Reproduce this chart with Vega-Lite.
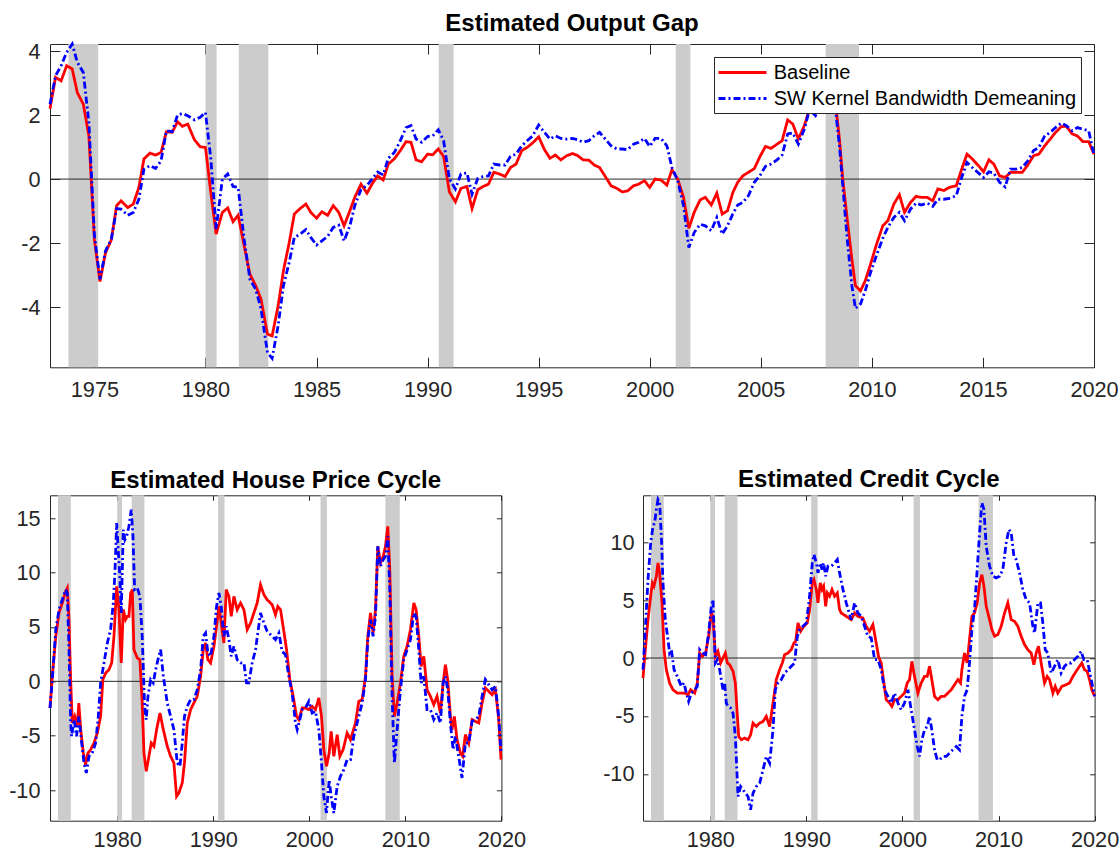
{
"$schema": "https://vega.github.io/schema/vega-lite/v6.json",
"padding": {"left": 8, "top": 12, "right": 0, "bottom": 0},
"bounds": "flush",
"spacing": 127.3,
"resolve": {"scale": {"color": "independent", "strokeDash": "independent"}},
"datasets": {
"rec": [{"a":1973.83,"b":1975.17},{"a":1980.0,"b":1980.5},{"a":1981.5,"b":1982.83},{"a":1990.5,"b":1991.17},{"a":2001.17,"b":2001.83},{"a":2007.92,"b":2009.42}],
"ogB": [{"t":1973.0,"v":2.2},{"t":1973.25,"v":3.18},{"t":1973.5,"v":3.07},{"t":1973.75,"v":3.54},{"t":1974.0,"v":3.44},{"t":1974.23,"v":2.7},{"t":1974.5,"v":2.34},{"t":1974.75,"v":1.35},{"t":1975.0,"v":-1.9},{"t":1975.25,"v":-3.2},{"t":1975.5,"v":-2.3},{"t":1975.76,"v":-1.9},{"t":1976.0,"v":-0.83},{"t":1976.2,"v":-0.68},{"t":1976.5,"v":-0.89},{"t":1976.75,"v":-0.78},{"t":1977.0,"v":-0.26},{"t":1977.23,"v":0.63},{"t":1977.5,"v":0.81},{"t":1977.75,"v":0.75},{"t":1978.0,"v":0.83},{"t":1978.24,"v":1.48},{"t":1978.5,"v":1.46},{"t":1978.74,"v":1.79},{"t":1978.96,"v":1.65},{"t":1979.2,"v":1.72},{"t":1979.5,"v":1.23},{"t":1979.76,"v":1.01},{"t":1980.0,"v":0.99},{"t":1980.24,"v":-0.42},{"t":1980.48,"v":-1.72},{"t":1980.76,"v":-1.04},{"t":1981.0,"v":-0.9},{"t":1981.24,"v":-1.33},{"t":1981.47,"v":-1.13},{"t":1981.74,"v":-2.08},{"t":1982.0,"v":-2.97},{"t":1982.26,"v":-3.33},{"t":1982.5,"v":-3.75},{"t":1982.79,"v":-4.84},{"t":1983.0,"v":-4.9},{"t":1983.27,"v":-3.96},{"t":1983.51,"v":-2.86},{"t":1983.77,"v":-1.98},{"t":1984.0,"v":-1.09},{"t":1984.26,"v":-0.92},{"t":1984.52,"v":-0.78},{"t":1984.74,"v":-1.04},{"t":1985.0,"v":-1.22},{"t":1985.24,"v":-1.02},{"t":1985.5,"v":-1.13},{"t":1985.75,"v":-0.83},{"t":1986.0,"v":-1.04},{"t":1986.24,"v":-1.46},{"t":1986.5,"v":-0.99},{"t":1986.72,"v":-0.57},{"t":1987.0,"v":-0.16},{"t":1987.27,"v":-0.44},{"t":1987.5,"v":-0.15},{"t":1987.75,"v":0.1},{"t":1988.0,"v":-0.03},{"t":1988.23,"v":0.47},{"t":1988.5,"v":0.63},{"t":1988.77,"v":0.89},{"t":1989.03,"v":1.17},{"t":1989.25,"v":1.15},{"t":1989.48,"v":0.6},{"t":1989.73,"v":0.54},{"t":1990.0,"v":0.78},{"t":1990.23,"v":0.76},{"t":1990.48,"v":0.94},{"t":1990.72,"v":0.71},{"t":1990.98,"v":-0.4},{"t":1991.25,"v":-0.71},{"t":1991.5,"v":-0.29},{"t":1991.77,"v":-0.23},{"t":1992.0,"v":-0.92},{"t":1992.26,"v":-0.33},{"t":1992.5,"v":-0.23},{"t":1992.74,"v":-0.16},{"t":1992.98,"v":0.21},{"t":1993.23,"v":0.16},{"t":1993.49,"v":0.08},{"t":1993.73,"v":0.36},{"t":1993.98,"v":0.47},{"t":1994.24,"v":0.89},{"t":1994.48,"v":0.99},{"t":1994.73,"v":1.13},{"t":1995.0,"v":1.32},{"t":1995.26,"v":0.92},{"t":1995.51,"v":0.65},{"t":1995.75,"v":0.75},{"t":1996.0,"v":0.6},{"t":1996.26,"v":0.73},{"t":1996.53,"v":0.8},{"t":1996.76,"v":0.73},{"t":1997.0,"v":0.6},{"t":1997.26,"v":0.59},{"t":1997.5,"v":0.44},{"t":1997.74,"v":0.36},{"t":1998.0,"v":0.08},{"t":1998.26,"v":-0.21},{"t":1998.52,"v":-0.29},{"t":1998.76,"v":-0.4},{"t":1999.0,"v":-0.37},{"t":1999.27,"v":-0.21},{"t":1999.5,"v":-0.16},{"t":1999.76,"v":-0.05},{"t":2000.0,"v":-0.26},{"t":2000.24,"v":0.0},{"t":2000.51,"v":-0.03},{"t":2000.77,"v":-0.19},{"t":2001.0,"v":0.29},{"t":2001.26,"v":0.0},{"t":2001.52,"v":-0.57},{"t":2001.76,"v":-1.54},{"t":2002.0,"v":-1.04},{"t":2002.27,"v":-0.65},{"t":2002.5,"v":-0.57},{"t":2002.77,"v":-0.81},{"t":2003.02,"v":-0.44},{"t":2003.26,"v":-1.09},{"t":2003.5,"v":-0.99},{"t":2003.74,"v":-0.42},{"t":2003.96,"v":-0.1},{"t":2004.19,"v":0.1},{"t":2004.44,"v":0.21},{"t":2004.71,"v":0.33},{"t":2004.98,"v":0.73},{"t":2005.21,"v":1.02},{"t":2005.46,"v":0.96},{"t":2005.73,"v":1.09},{"t":2005.96,"v":1.2},{"t":2006.21,"v":1.85},{"t":2006.44,"v":1.72},{"t":2006.69,"v":1.25},{"t":2006.96,"v":1.67},{"t":2007.19,"v":2.19},{"t":2007.46,"v":2.45},{"t":2007.71,"v":2.6},{"t":2007.96,"v":2.55},{"t":2008.2,"v":2.4},{"t":2008.39,"v":2.19},{"t":2008.54,"v":1.25},{"t":2008.69,"v":0.0},{"t":2008.89,"v":-1.25},{"t":2009.1,"v":-2.5},{"t":2009.26,"v":-3.33},{"t":2009.49,"v":-3.49},{"t":2009.7,"v":-3.18},{"t":2009.94,"v":-2.66},{"t":2010.19,"v":-2.08},{"t":2010.49,"v":-1.46},{"t":2010.72,"v":-1.3},{"t":2010.99,"v":-0.78},{"t":2011.24,"v":-0.49},{"t":2011.47,"v":-1.04},{"t":2011.74,"v":-0.73},{"t":2011.99,"v":-0.54},{"t":2012.22,"v":-0.57},{"t":2012.49,"v":-0.57},{"t":2012.74,"v":-0.68},{"t":2012.97,"v":-0.31},{"t":2013.24,"v":-0.36},{"t":2013.49,"v":-0.26},{"t":2013.8,"v":-0.21},{"t":2014.02,"v":0.26},{"t":2014.28,"v":0.78},{"t":2014.52,"v":0.63},{"t":2014.77,"v":0.44},{"t":2015.03,"v":0.23},{"t":2015.27,"v":0.6},{"t":2015.49,"v":0.47},{"t":2015.75,"v":0.1},{"t":2016.0,"v":0.05},{"t":2016.24,"v":0.21},{"t":2016.5,"v":0.21},{"t":2016.77,"v":0.21},{"t":2017.02,"v":0.44},{"t":2017.28,"v":0.73},{"t":2017.52,"v":0.78},{"t":2017.78,"v":1.04},{"t":2018.03,"v":1.25},{"t":2018.27,"v":1.46},{"t":2018.53,"v":1.64},{"t":2018.75,"v":1.65},{"t":2019.02,"v":1.41},{"t":2019.25,"v":1.35},{"t":2019.5,"v":1.17},{"t":2019.76,"v":1.17},{"t":2020.0,"v":0.78}],
"ogS": [{"t":1973.0,"v":2.34},{"t":1973.25,"v":3.23},{"t":1973.5,"v":3.54},{"t":1973.75,"v":3.96},{"t":1974.0,"v":4.22},{"t":1974.23,"v":3.65},{"t":1974.5,"v":3.33},{"t":1974.75,"v":1.77},{"t":1975.0,"v":-1.77},{"t":1975.25,"v":-3.13},{"t":1975.5,"v":-2.24},{"t":1975.76,"v":-1.88},{"t":1976.0,"v":-0.92},{"t":1976.2,"v":-0.94},{"t":1976.5,"v":-1.13},{"t":1976.75,"v":-1.04},{"t":1977.0,"v":-0.63},{"t":1977.23,"v":0.31},{"t":1977.5,"v":0.42},{"t":1977.75,"v":0.33},{"t":1978.0,"v":0.57},{"t":1978.24,"v":1.51},{"t":1978.5,"v":1.48},{"t":1978.74,"v":2.0},{"t":1978.96,"v":2.05},{"t":1979.2,"v":1.98},{"t":1979.5,"v":1.85},{"t":1979.76,"v":1.93},{"t":1980.0,"v":2.08},{"t":1980.24,"v":0.63},{"t":1980.48,"v":-1.56},{"t":1980.76,"v":0.0},{"t":1981.0,"v":0.16},{"t":1981.24,"v":-0.23},{"t":1981.47,"v":-0.26},{"t":1981.74,"v":-1.88},{"t":1982.0,"v":-3.13},{"t":1982.26,"v":-3.44},{"t":1982.5,"v":-4.06},{"t":1982.79,"v":-5.42},{"t":1983.0,"v":-5.6},{"t":1983.27,"v":-4.58},{"t":1983.51,"v":-3.33},{"t":1983.77,"v":-2.6},{"t":1984.0,"v":-1.82},{"t":1984.26,"v":-1.72},{"t":1984.52,"v":-1.58},{"t":1984.74,"v":-1.82},{"t":1985.0,"v":-2.06},{"t":1985.24,"v":-1.93},{"t":1985.5,"v":-1.79},{"t":1985.75,"v":-1.51},{"t":1986.0,"v":-1.44},{"t":1986.24,"v":-1.93},{"t":1986.5,"v":-1.46},{"t":1986.72,"v":-0.83},{"t":1987.0,"v":-0.33},{"t":1987.27,"v":-0.2},{"t":1987.5,"v":0.0},{"t":1987.75,"v":0.22},{"t":1988.0,"v":0.13},{"t":1988.23,"v":0.65},{"t":1988.5,"v":0.83},{"t":1988.77,"v":1.2},{"t":1989.03,"v":1.61},{"t":1989.25,"v":1.67},{"t":1989.48,"v":1.25},{"t":1989.73,"v":1.15},{"t":1990.0,"v":1.33},{"t":1990.23,"v":1.35},{"t":1990.48,"v":1.54},{"t":1990.72,"v":1.2},{"t":1990.98,"v":0.0},{"t":1991.25,"v":-0.31},{"t":1991.5,"v":0.16},{"t":1991.77,"v":0.19},{"t":1992.0,"v":-0.47},{"t":1992.26,"v":0.02},{"t":1992.5,"v":0.08},{"t":1992.74,"v":0.1},{"t":1992.98,"v":0.47},{"t":1993.23,"v":0.44},{"t":1993.49,"v":0.44},{"t":1993.73,"v":0.71},{"t":1993.98,"v":0.78},{"t":1994.24,"v":1.04},{"t":1994.48,"v":1.2},{"t":1994.73,"v":1.35},{"t":1995.0,"v":1.69},{"t":1995.26,"v":1.46},{"t":1995.51,"v":1.25},{"t":1995.75,"v":1.35},{"t":1996.0,"v":1.27},{"t":1996.26,"v":1.25},{"t":1996.53,"v":1.27},{"t":1996.76,"v":1.23},{"t":1997.0,"v":1.15},{"t":1997.26,"v":1.2},{"t":1997.5,"v":1.35},{"t":1997.74,"v":1.46},{"t":1998.0,"v":1.25},{"t":1998.26,"v":1.04},{"t":1998.52,"v":0.94},{"t":1998.76,"v":0.94},{"t":1999.0,"v":0.92},{"t":1999.27,"v":1.09},{"t":1999.5,"v":1.15},{"t":1999.76,"v":1.27},{"t":2000.0,"v":1.02},{"t":2000.24,"v":1.27},{"t":2000.51,"v":1.27},{"t":2000.77,"v":1.04},{"t":2001.0,"v":0.36},{"t":2001.26,"v":-0.05},{"t":2001.52,"v":-0.83},{"t":2001.76,"v":-2.14},{"t":2002.0,"v":-1.67},{"t":2002.27,"v":-1.41},{"t":2002.5,"v":-1.46},{"t":2002.77,"v":-1.61},{"t":2003.02,"v":-1.2},{"t":2003.26,"v":-1.72},{"t":2003.5,"v":-1.46},{"t":2003.74,"v":-1.09},{"t":2003.96,"v":-0.81},{"t":2004.19,"v":-0.73},{"t":2004.44,"v":-0.52},{"t":2004.71,"v":-0.1},{"t":2004.98,"v":0.13},{"t":2005.21,"v":0.4},{"t":2005.46,"v":0.47},{"t":2005.73,"v":0.6},{"t":2005.96,"v":0.75},{"t":2006.21,"v":1.41},{"t":2006.44,"v":1.44},{"t":2006.69,"v":1.09},{"t":2006.96,"v":1.56},{"t":2007.19,"v":2.17},{"t":2007.46,"v":1.98},{"t":2007.71,"v":2.3},{"t":2007.96,"v":2.4},{"t":2008.2,"v":2.3},{"t":2008.39,"v":1.98},{"t":2008.54,"v":1.04},{"t":2008.69,"v":-0.21},{"t":2008.89,"v":-1.88},{"t":2009.1,"v":-3.33},{"t":2009.26,"v":-4.04},{"t":2009.49,"v":-3.9},{"t":2009.7,"v":-3.49},{"t":2009.94,"v":-2.92},{"t":2010.19,"v":-2.42},{"t":2010.49,"v":-1.85},{"t":2010.72,"v":-1.51},{"t":2010.99,"v":-1.2},{"t":2011.24,"v":-1.04},{"t":2011.47,"v":-1.3},{"t":2011.74,"v":-0.94},{"t":2011.99,"v":-0.75},{"t":2012.22,"v":-0.81},{"t":2012.49,"v":-0.75},{"t":2012.74,"v":-0.85},{"t":2012.97,"v":-0.63},{"t":2013.24,"v":-0.63},{"t":2013.49,"v":-0.6},{"t":2013.8,"v":-0.52},{"t":2014.02,"v":0.0},{"t":2014.28,"v":0.52},{"t":2014.52,"v":0.36},{"t":2014.77,"v":0.21},{"t":2015.03,"v":0.05},{"t":2015.27,"v":0.23},{"t":2015.49,"v":0.19},{"t":2015.75,"v":-0.1},{"t":2016.0,"v":-0.24},{"t":2016.24,"v":0.31},{"t":2016.5,"v":0.31},{"t":2016.77,"v":0.36},{"t":2017.02,"v":0.57},{"t":2017.28,"v":0.89},{"t":2017.52,"v":0.99},{"t":2017.78,"v":1.35},{"t":2018.03,"v":1.46},{"t":2018.27,"v":1.61},{"t":2018.53,"v":1.75},{"t":2018.75,"v":1.67},{"t":2019.02,"v":1.51},{"t":2019.25,"v":1.61},{"t":2019.5,"v":1.56},{"t":2019.76,"v":1.51},{"t":2020.0,"v":0.75}],
"hpB": [{"t":1973.0,"v":-2.45},{"t":1973.24,"v":0.46},{"t":1973.6,"v":4.1},{"t":1973.94,"v":6.3},{"t":1974.28,"v":7.2},{"t":1974.63,"v":8.27},{"t":1974.8,"v":8.58},{"t":1974.98,"v":5.67},{"t":1975.15,"v":0.15},{"t":1975.32,"v":-3.83},{"t":1975.57,"v":-3.2},{"t":1975.84,"v":-4.1},{"t":1976.0,"v":-2.0},{"t":1976.2,"v":-4.45},{"t":1976.47,"v":-6.6},{"t":1976.7,"v":-7.66},{"t":1976.95,"v":-6.6},{"t":1977.23,"v":-6.28},{"t":1977.58,"v":-5.67},{"t":1977.93,"v":-4.75},{"t":1978.27,"v":-3.2},{"t":1978.5,"v":0.15},{"t":1978.8,"v":0.77},{"t":1979.14,"v":1.07},{"t":1979.42,"v":1.69},{"t":1979.66,"v":4.14},{"t":1979.94,"v":8.73},{"t":1980.18,"v":6.59},{"t":1980.42,"v":1.69},{"t":1980.63,"v":6.59},{"t":1980.87,"v":5.67},{"t":1981.05,"v":5.97},{"t":1981.22,"v":5.97},{"t":1981.4,"v":8.12},{"t":1981.57,"v":8.43},{"t":1981.74,"v":2.91},{"t":1982.09,"v":2.14},{"t":1982.36,"v":1.99},{"t":1982.6,"v":-1.99},{"t":1982.78,"v":-6.59},{"t":1983.02,"v":-8.27},{"t":1983.3,"v":-6.89},{"t":1983.54,"v":-5.67},{"t":1983.82,"v":-5.97},{"t":1984.1,"v":-4.44},{"t":1984.45,"v":-2.91},{"t":1984.8,"v":-4.44},{"t":1985.21,"v":-5.97},{"t":1985.56,"v":-6.89},{"t":1985.9,"v":-7.5},{"t":1986.18,"v":-10.57},{"t":1986.42,"v":-10.26},{"t":1986.77,"v":-9.34},{"t":1987.0,"v":-7.5},{"t":1987.29,"v":-3.83},{"t":1987.64,"v":-2.6},{"t":1987.98,"v":-1.99},{"t":1988.33,"v":-1.38},{"t":1988.68,"v":0.46},{"t":1988.96,"v":2.91},{"t":1989.2,"v":3.52},{"t":1989.44,"v":1.99},{"t":1989.72,"v":1.69},{"t":1990.07,"v":3.22},{"t":1990.34,"v":5.06},{"t":1990.59,"v":6.89},{"t":1990.83,"v":5.36},{"t":1991.1,"v":3.52},{"t":1991.35,"v":8.43},{"t":1991.63,"v":7.81},{"t":1991.87,"v":5.97},{"t":1992.15,"v":7.81},{"t":1992.49,"v":6.59},{"t":1992.84,"v":7.2},{"t":1993.19,"v":6.59},{"t":1993.53,"v":4.75},{"t":1993.88,"v":5.36},{"t":1994.57,"v":7.2},{"t":1994.92,"v":8.88},{"t":1995.27,"v":7.97},{"t":1995.61,"v":7.5},{"t":1996.13,"v":7.05},{"t":1996.48,"v":6.13},{"t":1996.72,"v":6.89},{"t":1997.0,"v":6.59},{"t":1997.35,"v":4.6},{"t":1997.63,"v":2.91},{"t":1997.97,"v":0.15},{"t":1998.32,"v":-1.38},{"t":1998.67,"v":-3.22},{"t":1998.91,"v":-3.52},{"t":1999.26,"v":-2.45},{"t":1999.6,"v":-2.45},{"t":1999.95,"v":-2.6},{"t":2000.3,"v":-2.3},{"t":2000.64,"v":-2.6},{"t":2000.99,"v":-1.53},{"t":2001.27,"v":-3.22},{"t":2001.51,"v":-6.28},{"t":2001.79,"v":-7.81},{"t":2002.07,"v":-6.59},{"t":2002.27,"v":-4.6},{"t":2002.55,"v":-6.89},{"t":2002.9,"v":-4.9},{"t":2003.18,"v":-6.89},{"t":2003.52,"v":-6.28},{"t":2003.94,"v":-4.75},{"t":2004.29,"v":-5.36},{"t":2004.81,"v":-3.83},{"t":2005.15,"v":-1.84},{"t":2005.5,"v":-1.68},{"t":2005.85,"v":0.46},{"t":2006.09,"v":4.14},{"t":2006.37,"v":6.28},{"t":2006.64,"v":4.44},{"t":2006.89,"v":6.59},{"t":2007.13,"v":12.41},{"t":2007.41,"v":10.88},{"t":2007.69,"v":11.49},{"t":2007.93,"v":12.41},{"t":2008.17,"v":14.25},{"t":2008.38,"v":10.26},{"t":2008.62,"v":0.46},{"t":2008.86,"v":-3.22},{"t":2009.14,"v":-1.99},{"t":2009.49,"v":-0.15},{"t":2009.83,"v":2.3},{"t":2010.18,"v":3.22},{"t":2010.53,"v":4.75},{"t":2010.88,"v":7.2},{"t":2011.12,"v":6.59},{"t":2011.4,"v":4.14},{"t":2011.64,"v":1.38},{"t":2011.92,"v":2.3},{"t":2012.26,"v":-0.77},{"t":2012.61,"v":-1.38},{"t":2012.96,"v":-2.14},{"t":2013.3,"v":-1.38},{"t":2013.65,"v":-2.91},{"t":2013.93,"v":-0.15},{"t":2014.17,"v":1.53},{"t":2014.41,"v":0.15},{"t":2014.69,"v":-3.22},{"t":2014.86,"v":-4.44},{"t":2015.1,"v":-3.22},{"t":2015.38,"v":-5.36},{"t":2015.73,"v":-6.59},{"t":2015.97,"v":-6.89},{"t":2016.25,"v":-4.9},{"t":2016.6,"v":-5.67},{"t":2016.95,"v":-3.52},{"t":2017.29,"v":-3.68},{"t":2017.64,"v":-3.83},{"t":2017.99,"v":-1.99},{"t":2018.33,"v":-0.61},{"t":2018.68,"v":-0.92},{"t":2019.03,"v":-1.23},{"t":2019.38,"v":-0.77},{"t":2019.72,"v":-3.52},{"t":2019.96,"v":-7.2}],
"hpS": [{"t":1973.0,"v":-2.45},{"t":1973.24,"v":0.15},{"t":1973.6,"v":4.75},{"t":1973.94,"v":6.59},{"t":1974.28,"v":7.5},{"t":1974.63,"v":8.43},{"t":1974.8,"v":8.12},{"t":1974.98,"v":2.91},{"t":1975.15,"v":-3.83},{"t":1975.25,"v":-5.06},{"t":1975.5,"v":-3.52},{"t":1975.77,"v":-5.06},{"t":1976.0,"v":-3.22},{"t":1976.26,"v":-5.36},{"t":1976.54,"v":-7.5},{"t":1976.78,"v":-8.43},{"t":1977.06,"v":-6.89},{"t":1977.4,"v":-6.59},{"t":1977.75,"v":-5.67},{"t":1978.03,"v":-3.22},{"t":1978.27,"v":-0.15},{"t":1978.62,"v":1.69},{"t":1978.97,"v":3.52},{"t":1979.31,"v":4.75},{"t":1979.59,"v":7.2},{"t":1979.76,"v":9.96},{"t":1979.94,"v":14.55},{"t":1980.08,"v":12.41},{"t":1980.25,"v":9.96},{"t":1980.42,"v":6.28},{"t":1980.63,"v":13.94},{"t":1980.8,"v":13.02},{"t":1980.98,"v":13.33},{"t":1981.22,"v":14.25},{"t":1981.46,"v":15.78},{"t":1981.64,"v":13.33},{"t":1981.81,"v":8.43},{"t":1982.09,"v":8.58},{"t":1982.36,"v":7.81},{"t":1982.6,"v":4.14},{"t":1982.85,"v":-2.3},{"t":1983.02,"v":-3.52},{"t":1983.2,"v":-1.38},{"t":1983.48,"v":0.15},{"t":1983.75,"v":-0.15},{"t":1984.0,"v":1.07},{"t":1984.24,"v":1.99},{"t":1984.52,"v":2.91},{"t":1984.8,"v":0.46},{"t":1985.21,"v":-1.99},{"t":1985.56,"v":-3.22},{"t":1985.9,"v":-4.44},{"t":1986.25,"v":-7.5},{"t":1986.53,"v":-7.81},{"t":1986.77,"v":-5.67},{"t":1987.0,"v":-3.22},{"t":1987.29,"v":-2.3},{"t":1987.64,"v":-1.68},{"t":1987.98,"v":-1.68},{"t":1988.33,"v":-0.77},{"t":1988.68,"v":1.07},{"t":1988.96,"v":4.14},{"t":1989.2,"v":4.44},{"t":1989.44,"v":2.6},{"t":1989.72,"v":2.3},{"t":1990.07,"v":4.14},{"t":1990.34,"v":6.89},{"t":1990.59,"v":8.12},{"t":1990.83,"v":6.89},{"t":1991.1,"v":4.14},{"t":1991.35,"v":5.06},{"t":1991.63,"v":3.83},{"t":1991.87,"v":2.3},{"t":1992.15,"v":3.22},{"t":1992.49,"v":1.99},{"t":1992.84,"v":1.69},{"t":1993.19,"v":1.69},{"t":1993.46,"v":-0.15},{"t":1993.7,"v":-0.15},{"t":1994.05,"v":1.69},{"t":1994.4,"v":2.91},{"t":1994.92,"v":6.28},{"t":1995.27,"v":5.36},{"t":1995.61,"v":4.6},{"t":1996.13,"v":4.14},{"t":1996.48,"v":3.83},{"t":1996.83,"v":4.44},{"t":1997.17,"v":2.76},{"t":1997.52,"v":2.45},{"t":1997.87,"v":0.46},{"t":1998.21,"v":-1.07},{"t":1998.56,"v":-3.83},{"t":1998.74,"v":-4.44},{"t":1999.01,"v":-3.52},{"t":1999.26,"v":-2.6},{"t":1999.6,"v":-2.45},{"t":1999.95,"v":-1.84},{"t":2000.3,"v":-2.91},{"t":2000.64,"v":-2.76},{"t":2000.99,"v":-4.44},{"t":2001.27,"v":-7.5},{"t":2001.51,"v":-10.57},{"t":2001.79,"v":-12.1},{"t":2002.07,"v":-9.04},{"t":2002.27,"v":-10.57},{"t":2002.55,"v":-12.1},{"t":2002.9,"v":-9.65},{"t":2003.24,"v":-8.73},{"t":2003.59,"v":-8.12},{"t":2003.94,"v":-7.2},{"t":2004.29,"v":-7.2},{"t":2004.63,"v":-5.06},{"t":2004.98,"v":-3.83},{"t":2005.5,"v":-1.99},{"t":2005.85,"v":0.15},{"t":2006.09,"v":3.83},{"t":2006.37,"v":5.67},{"t":2006.64,"v":4.14},{"t":2006.89,"v":5.97},{"t":2007.13,"v":12.41},{"t":2007.41,"v":10.57},{"t":2007.69,"v":11.18},{"t":2007.93,"v":11.49},{"t":2008.17,"v":13.33},{"t":2008.38,"v":8.43},{"t":2008.62,"v":-1.38},{"t":2008.86,"v":-7.5},{"t":2009.14,"v":-4.44},{"t":2009.49,"v":-0.77},{"t":2009.83,"v":1.99},{"t":2010.18,"v":2.91},{"t":2010.53,"v":3.83},{"t":2010.88,"v":6.28},{"t":2011.12,"v":5.97},{"t":2011.4,"v":2.91},{"t":2011.64,"v":-0.15},{"t":2011.92,"v":0.46},{"t":2012.26,"v":-2.6},{"t":2012.61,"v":-2.6},{"t":2012.96,"v":-3.52},{"t":2013.3,"v":-2.91},{"t":2013.65,"v":-3.83},{"t":2013.93,"v":-0.15},{"t":2014.17,"v":0.46},{"t":2014.41,"v":-0.77},{"t":2014.69,"v":-3.83},{"t":2014.97,"v":-6.28},{"t":2015.21,"v":-5.06},{"t":2015.55,"v":-6.89},{"t":2015.9,"v":-8.88},{"t":2016.25,"v":-5.67},{"t":2016.6,"v":-5.67},{"t":2016.95,"v":-3.68},{"t":2017.29,"v":-3.52},{"t":2017.64,"v":-3.22},{"t":2017.99,"v":-1.38},{"t":2018.33,"v":0.15},{"t":2018.68,"v":-0.31},{"t":2019.03,"v":-0.77},{"t":2019.38,"v":-0.46},{"t":2019.72,"v":-3.22},{"t":2019.96,"v":-6.59}],
"ccB": [{"t":1973.0,"v":-1.73},{"t":1973.24,"v":0.72},{"t":1973.52,"v":3.31},{"t":1973.8,"v":5.33},{"t":1973.97,"v":6.48},{"t":1974.14,"v":6.2},{"t":1974.39,"v":7.06},{"t":1974.56,"v":8.21},{"t":1974.73,"v":7.35},{"t":1974.98,"v":4.76},{"t":1975.19,"v":0.72},{"t":1975.43,"v":-1.01},{"t":1975.77,"v":-2.16},{"t":1976.12,"v":-2.74},{"t":1976.57,"v":-3.03},{"t":1976.99,"v":-3.03},{"t":1977.34,"v":-3.03},{"t":1977.68,"v":-3.17},{"t":1977.96,"v":-2.74},{"t":1978.38,"v":-3.03},{"t":1978.65,"v":-2.16},{"t":1978.9,"v":0.43},{"t":1979.17,"v":0.14},{"t":1979.52,"v":0.43},{"t":1979.83,"v":1.87},{"t":1980.11,"v":3.89},{"t":1980.28,"v":3.6},{"t":1980.53,"v":0.14},{"t":1980.8,"v":0.58},{"t":1981.08,"v":-0.43},{"t":1981.32,"v":0.0},{"t":1981.57,"v":0.43},{"t":1981.78,"v":-0.43},{"t":1982.02,"v":-0.58},{"t":1982.37,"v":-1.15},{"t":1982.61,"v":-2.16},{"t":1982.78,"v":-4.47},{"t":1982.96,"v":-6.77},{"t":1983.23,"v":-7.06},{"t":1983.58,"v":-6.92},{"t":1983.93,"v":-7.06},{"t":1984.2,"v":-6.63},{"t":1984.45,"v":-5.62},{"t":1984.79,"v":-5.91},{"t":1985.14,"v":-5.62},{"t":1985.49,"v":-5.48},{"t":1985.83,"v":-5.04},{"t":1986.18,"v":-5.91},{"t":1986.53,"v":-3.89},{"t":1986.87,"v":-1.87},{"t":1987.22,"v":-1.01},{"t":1987.5,"v":-0.43},{"t":1987.74,"v":0.29},{"t":1988.09,"v":0.43},{"t":1988.43,"v":0.72},{"t":1988.71,"v":1.3},{"t":1988.89,"v":1.44},{"t":1989.13,"v":3.03},{"t":1989.41,"v":2.31},{"t":1989.75,"v":2.74},{"t":1990.1,"v":3.03},{"t":1990.34,"v":4.18},{"t":1990.62,"v":6.48},{"t":1990.79,"v":6.77},{"t":1991.04,"v":5.91},{"t":1991.21,"v":4.76},{"t":1991.45,"v":6.48},{"t":1991.63,"v":5.91},{"t":1991.8,"v":6.2},{"t":1992.01,"v":4.47},{"t":1992.18,"v":5.62},{"t":1992.42,"v":5.33},{"t":1992.67,"v":5.91},{"t":1992.94,"v":5.33},{"t":1993.22,"v":5.62},{"t":1993.46,"v":4.18},{"t":1993.63,"v":3.89},{"t":1994.15,"v":3.6},{"t":1994.67,"v":3.31},{"t":1995.02,"v":3.89},{"t":1995.36,"v":3.6},{"t":1995.88,"v":3.46},{"t":1996.23,"v":2.74},{"t":1996.58,"v":2.31},{"t":1996.93,"v":2.88},{"t":1997.27,"v":1.3},{"t":1997.51,"v":0.14},{"t":1997.79,"v":-0.43},{"t":1998.07,"v":-2.16},{"t":1998.31,"v":-3.6},{"t":1998.66,"v":-3.89},{"t":1998.9,"v":-4.18},{"t":1999.18,"v":-3.6},{"t":1999.53,"v":-3.6},{"t":1999.87,"v":-3.31},{"t":2000.22,"v":-3.03},{"t":2000.5,"v":-2.16},{"t":2000.74,"v":-1.87},{"t":2000.98,"v":-0.29},{"t":2001.26,"v":-1.59},{"t":2001.61,"v":-3.03},{"t":2001.95,"v":-2.16},{"t":2002.3,"v":-1.59},{"t":2002.58,"v":-1.59},{"t":2002.82,"v":-0.72},{"t":2003.06,"v":-1.87},{"t":2003.34,"v":-3.31},{"t":2003.69,"v":-3.6},{"t":2004.04,"v":-3.31},{"t":2004.38,"v":-3.31},{"t":2004.73,"v":-3.03},{"t":2005.08,"v":-2.74},{"t":2005.42,"v":-2.31},{"t":2005.77,"v":-1.87},{"t":2006.05,"v":-2.16},{"t":2006.19,"v":-1.01},{"t":2006.46,"v":0.43},{"t":2006.74,"v":-0.43},{"t":2006.98,"v":1.59},{"t":2007.23,"v":3.6},{"t":2007.5,"v":3.89},{"t":2007.78,"v":4.76},{"t":2008.03,"v":6.48},{"t":2008.27,"v":7.2},{"t":2008.48,"v":6.2},{"t":2008.72,"v":4.47},{"t":2009.07,"v":3.31},{"t":2009.31,"v":2.45},{"t":2009.59,"v":1.87},{"t":2009.93,"v":2.02},{"t":2010.28,"v":2.74},{"t":2010.63,"v":3.89},{"t":2010.97,"v":4.76},{"t":2011.32,"v":3.31},{"t":2011.67,"v":3.17},{"t":2012.01,"v":2.74},{"t":2012.36,"v":1.87},{"t":2012.71,"v":1.15},{"t":2013.05,"v":0.72},{"t":2013.4,"v":0.43},{"t":2013.68,"v":-0.58},{"t":2013.92,"v":0.43},{"t":2014.16,"v":1.01},{"t":2014.44,"v":-0.43},{"t":2014.79,"v":-2.16},{"t":2015.07,"v":-1.59},{"t":2015.31,"v":-1.87},{"t":2015.66,"v":-3.03},{"t":2015.9,"v":-2.45},{"t":2016.17,"v":-3.03},{"t":2016.59,"v":-2.45},{"t":2017.04,"v":-2.31},{"t":2017.39,"v":-2.16},{"t":2017.74,"v":-1.59},{"t":2018.08,"v":-1.15},{"t":2018.43,"v":-0.72},{"t":2018.67,"v":-0.43},{"t":2018.95,"v":-1.01},{"t":2019.23,"v":-1.15},{"t":2019.47,"v":-1.87},{"t":2019.71,"v":-2.74},{"t":2020.0,"v":-3.31}],
"ccS": [{"t":1973.0,"v":-1.01},{"t":1973.24,"v":2.45},{"t":1973.52,"v":6.77},{"t":1973.8,"v":9.94},{"t":1974.04,"v":11.38},{"t":1974.21,"v":11.67},{"t":1974.39,"v":12.82},{"t":1974.56,"v":13.69},{"t":1974.73,"v":13.4},{"t":1974.91,"v":10.52},{"t":1975.08,"v":6.48},{"t":1975.32,"v":3.31},{"t":1975.6,"v":1.59},{"t":1975.77,"v":0.43},{"t":1975.95,"v":0.72},{"t":1976.23,"v":-1.01},{"t":1976.57,"v":-1.59},{"t":1976.99,"v":-2.45},{"t":1977.27,"v":-2.16},{"t":1977.51,"v":-3.03},{"t":1977.75,"v":-3.75},{"t":1978.03,"v":-3.03},{"t":1978.38,"v":-2.74},{"t":1978.65,"v":-2.45},{"t":1978.9,"v":0.72},{"t":1979.17,"v":0.43},{"t":1979.52,"v":0.29},{"t":1979.83,"v":2.16},{"t":1980.11,"v":4.47},{"t":1980.28,"v":5.04},{"t":1980.53,"v":-0.43},{"t":1980.74,"v":-0.14},{"t":1980.98,"v":-1.01},{"t":1981.15,"v":-1.87},{"t":1981.32,"v":-2.74},{"t":1981.5,"v":-2.16},{"t":1981.67,"v":-3.89},{"t":1981.84,"v":-4.18},{"t":1982.12,"v":-4.32},{"t":1982.37,"v":-4.76},{"t":1982.61,"v":-6.77},{"t":1982.89,"v":-11.96},{"t":1983.16,"v":-11.1},{"t":1983.41,"v":-11.38},{"t":1983.65,"v":-11.67},{"t":1983.93,"v":-11.96},{"t":1984.2,"v":-13.11},{"t":1984.45,"v":-11.67},{"t":1984.79,"v":-11.1},{"t":1985.14,"v":-10.81},{"t":1985.49,"v":-9.65},{"t":1985.83,"v":-8.5},{"t":1986.18,"v":-9.08},{"t":1986.53,"v":-6.2},{"t":1986.77,"v":-2.74},{"t":1987.05,"v":-2.16},{"t":1987.39,"v":-1.87},{"t":1987.74,"v":-1.3},{"t":1988.09,"v":-1.01},{"t":1988.43,"v":-0.72},{"t":1988.78,"v":-0.43},{"t":1989.06,"v":1.87},{"t":1989.3,"v":2.45},{"t":1989.65,"v":2.74},{"t":1990.0,"v":3.03},{"t":1990.34,"v":5.33},{"t":1990.62,"v":8.21},{"t":1990.79,"v":8.93},{"t":1991.04,"v":8.21},{"t":1991.21,"v":7.35},{"t":1991.45,"v":8.21},{"t":1991.63,"v":7.64},{"t":1991.8,"v":8.21},{"t":1992.01,"v":7.06},{"t":1992.25,"v":7.93},{"t":1992.6,"v":7.93},{"t":1992.94,"v":8.21},{"t":1993.22,"v":8.5},{"t":1993.46,"v":7.35},{"t":1993.81,"v":5.91},{"t":1994.15,"v":4.76},{"t":1994.67,"v":3.31},{"t":1995.02,"v":4.76},{"t":1995.36,"v":3.89},{"t":1995.71,"v":3.6},{"t":1996.06,"v":2.74},{"t":1996.4,"v":1.87},{"t":1996.75,"v":1.73},{"t":1997.1,"v":-0.14},{"t":1997.45,"v":-0.14},{"t":1997.79,"v":-1.01},{"t":1998.14,"v":-2.74},{"t":1998.49,"v":-3.31},{"t":1998.83,"v":-3.89},{"t":1999.18,"v":-3.03},{"t":1999.53,"v":-3.89},{"t":1999.87,"v":-4.47},{"t":2000.22,"v":-3.89},{"t":2000.57,"v":-2.74},{"t":2000.91,"v":-4.47},{"t":2001.26,"v":-6.2},{"t":2001.54,"v":-7.64},{"t":2001.78,"v":-8.5},{"t":2002.02,"v":-7.06},{"t":2002.3,"v":-6.2},{"t":2002.58,"v":-5.91},{"t":2002.82,"v":-5.04},{"t":2003.06,"v":-6.2},{"t":2003.34,"v":-7.93},{"t":2003.62,"v":-8.79},{"t":2003.86,"v":-8.79},{"t":2004.21,"v":-8.5},{"t":2004.56,"v":-8.5},{"t":2004.9,"v":-8.21},{"t":2005.25,"v":-7.93},{"t":2005.6,"v":-7.64},{"t":2005.94,"v":-7.93},{"t":2006.19,"v":-5.04},{"t":2006.46,"v":-3.31},{"t":2006.74,"v":-2.74},{"t":2006.98,"v":-0.43},{"t":2007.23,"v":2.45},{"t":2007.5,"v":4.18},{"t":2007.78,"v":7.64},{"t":2008.03,"v":10.81},{"t":2008.27,"v":13.4},{"t":2008.48,"v":12.82},{"t":2008.72,"v":9.65},{"t":2009.07,"v":7.93},{"t":2009.41,"v":7.06},{"t":2009.76,"v":6.92},{"t":2010.11,"v":7.06},{"t":2010.45,"v":7.64},{"t":2010.8,"v":9.94},{"t":2011.08,"v":11.1},{"t":2011.32,"v":10.81},{"t":2011.6,"v":8.79},{"t":2011.84,"v":8.5},{"t":2012.19,"v":7.35},{"t":2012.53,"v":5.91},{"t":2012.88,"v":5.04},{"t":2013.23,"v":4.76},{"t":2013.57,"v":2.74},{"t":2013.75,"v":2.16},{"t":2014.1,"v":4.76},{"t":2014.37,"v":4.76},{"t":2014.61,"v":3.03},{"t":2014.86,"v":0.72},{"t":2015.13,"v":0.43},{"t":2015.48,"v":-1.3},{"t":2015.83,"v":-0.72},{"t":2016.17,"v":-0.14},{"t":2016.52,"v":-1.3},{"t":2016.87,"v":-0.72},{"t":2017.22,"v":-0.43},{"t":2017.56,"v":-0.43},{"t":2017.91,"v":-0.14},{"t":2018.26,"v":0.14},{"t":2018.6,"v":0.58},{"t":2018.88,"v":-0.14},{"t":2019.23,"v":-0.14},{"t":2019.58,"v":-1.59},{"t":2020.0,"v":-3.31}]
},
"vconcat": [
{
"width": 1044, "height": 323.3,
"title": {"text": "Estimated Output Gap"},
"layer": [
{"data": {"name": "rec"}, "mark": {"type": "rect", "color": "#cccccc"},
 "encoding": {"x": {"field": "a", "type": "quantitative", "scale": {"domain": [1973, 2020], "nice": false, "zero": false}, "axis": {"orient": "top", "labels": false, "values": [1975,1980,1985,1990,1995,2000,2005,2010,2015,2020], "tickSize": -10, "title": null}}, "x2": {"field": "b"}}},
{"data": {"values": [{}]}, "mark": {"type": "rule", "color": "#262626", "strokeWidth": 1},
 "encoding": {"y": {"datum": 0, "type": "quantitative", "scale": {"domain": [-5.88, 4.22], "nice": false, "zero": false}, "axis": {"orient": "right", "labels": false, "values": [-4,-2,0,2,4], "tickSize": -10, "title": null}}}},
{"data": {"name": "ogB"}, "mark": {"type": "line", "strokeWidth": 2.8},
 "encoding": {
  "x": {"field": "t", "type": "quantitative", "axis": {"orient": "bottom", "values": [1975,1980,1985,1990,1995,2000,2005,2010,2015,2020], "format": "d", "tickSize": -10, "labelPadding": 22, "title": null}},
  "y": {"field": "v", "type": "quantitative", "axis": {"orient": "left", "values": [-4,-2,0,2,4], "format": "d", "tickSize": -10, "labelPadding": 20, "title": null}},
  "color": {"datum": "Baseline", "type": "nominal", "scale": {"domain": ["Baseline", "SW Kernel Bandwidth Demeaning"], "range": ["#ff0000", "#0000ff"]}, "legend": {"title": null}},
  "strokeDash": {"datum": "Baseline", "type": "nominal", "scale": {"domain": ["Baseline", "SW Kernel Bandwidth Demeaning"], "range": [[1, 0], [7, 3, 2, 3]]}, "legend": {"title": null}}}},
{"data": {"name": "ogS"}, "mark": {"type": "line", "strokeWidth": 2.8},
 "encoding": {
  "x": {"field": "t", "type": "quantitative", "axis": null},
  "y": {"field": "v", "type": "quantitative", "axis": null},
  "color": {"datum": "SW Kernel Bandwidth Demeaning", "type": "nominal"},
  "strokeDash": {"datum": "SW Kernel Bandwidth Demeaning", "type": "nominal"}}}
]
},
{
"hconcat": [
{
"width": 451.4, "height": 325.4,
"title": {"text": "Estimated House Price Cycle"},
"layer": [
{"data": {"name": "rec"}, "mark": {"type": "rect", "color": "#cccccc"},
 "encoding": {"x": {"field": "a", "type": "quantitative", "scale": {"domain": [1973, 2020], "nice": false, "zero": false}, "axis": {"orient": "top", "labels": false, "values": [1980,1990,2000,2010,2020], "tickSize": -5, "title": null}}, "x2": {"field": "b"}}},
{"data": {"values": [{}]}, "mark": {"type": "rule", "color": "#262626", "strokeWidth": 1},
 "encoding": {"y": {"datum": 0, "type": "quantitative", "scale": {"domain": [-12.81, 17.1], "nice": false, "zero": false}, "axis": {"orient": "right", "labels": false, "values": [-10,-5,0,5,10,15], "tickSize": -5, "title": null}}}},
{"data": {"name": "hpB"}, "mark": {"type": "line", "strokeWidth": 2.8},
 "encoding": {
  "x": {"field": "t", "type": "quantitative", "axis": {"orient": "bottom", "values": [1980,1990,2000,2010,2020], "format": "d", "tickSize": -5, "labelPadding": 14, "title": null}},
  "y": {"field": "v", "type": "quantitative", "axis": {"orient": "left", "values": [-10,-5,0,5,10,15], "format": "d", "tickSize": -5, "labelPadding": 15, "title": null}},
  "color": {"datum": "Baseline", "type": "nominal", "scale": {"domain": ["Baseline", "SW Kernel Bandwidth Demeaning"], "range": ["#ff0000", "#0000ff"]}, "legend": null},
  "strokeDash": {"datum": "Baseline", "type": "nominal", "scale": {"domain": ["Baseline", "SW Kernel Bandwidth Demeaning"], "range": [[1, 0], [7, 3, 2, 3]]}, "legend": null}}},
{"data": {"name": "hpS"}, "mark": {"type": "line", "strokeWidth": 2.8},
 "encoding": {
  "x": {"field": "t", "type": "quantitative", "axis": null},
  "y": {"field": "v", "type": "quantitative", "axis": null},
  "color": {"datum": "SW Kernel Bandwidth Demeaning", "type": "nominal", "legend": null},
  "strokeDash": {"datum": "SW Kernel Bandwidth Demeaning", "type": "nominal", "legend": null}}}
]
},
{
"width": 451.6, "height": 325.4,
"title": {"text": "Estimated Credit Cycle"},
"layer": [
{"data": {"name": "rec"}, "mark": {"type": "rect", "color": "#cccccc"},
 "encoding": {"x": {"field": "a", "type": "quantitative", "scale": {"domain": [1973, 2020], "nice": false, "zero": false}, "axis": {"orient": "top", "labels": false, "values": [1980,1990,2000,2010,2020], "tickSize": -5, "title": null}}, "x2": {"field": "b"}}},
{"data": {"values": [{}]}, "mark": {"type": "rule", "color": "#262626", "strokeWidth": 1},
 "encoding": {"y": {"datum": 0, "type": "quantitative", "scale": {"domain": [-14.05, 14.05], "nice": false, "zero": false}, "axis": {"orient": "right", "labels": false, "values": [-10,-5,0,5,10], "tickSize": -5, "title": null}}}},
{"data": {"name": "ccB"}, "mark": {"type": "line", "strokeWidth": 2.8},
 "encoding": {
  "x": {"field": "t", "type": "quantitative", "axis": {"orient": "bottom", "values": [1980,1990,2000,2010,2020], "format": "d", "tickSize": -5, "labelPadding": 14, "title": null}},
  "y": {"field": "v", "type": "quantitative", "axis": {"orient": "left", "values": [-10,-5,0,5,10], "format": "d", "tickSize": -5, "labelPadding": 14, "title": null}},
  "color": {"datum": "Baseline", "type": "nominal", "scale": {"domain": ["Baseline", "SW Kernel Bandwidth Demeaning"], "range": ["#ff0000", "#0000ff"]}, "legend": null},
  "strokeDash": {"datum": "Baseline", "type": "nominal", "scale": {"domain": ["Baseline", "SW Kernel Bandwidth Demeaning"], "range": [[1, 0], [7, 3, 2, 3]]}, "legend": null}}},
{"data": {"name": "ccS"}, "mark": {"type": "line", "strokeWidth": 2.8},
 "encoding": {
  "x": {"field": "t", "type": "quantitative", "axis": null},
  "y": {"field": "v", "type": "quantitative", "axis": null},
  "color": {"datum": "SW Kernel Bandwidth Demeaning", "type": "nominal", "legend": null},
  "strokeDash": {"datum": "SW Kernel Bandwidth Demeaning", "type": "nominal", "legend": null}}}
]
}
],
"spacing": 141,
"bounds": "flush"
}
],
"config": {
 "locale": {"number": {"decimal": ".", "thousands": ",", "grouping": [3], "currency": ["$", ""], "minus": "-"}},
 "font": "Liberation Sans",
 "view": {"stroke": null},
 "axis": {"labelFont": "Liberation Sans", "labelFontSize": 21.7, "labelColor": "#262626", "tickColor": "#262626", "tickWidth": 1, "domainColor": "#262626", "domainWidth": 1, "grid": false, "zindex": 1, "labelFlush": false, "labelOverlap": false, "labelBound": false},
 "title": {"font": "Liberation Sans", "fontSize": 24, "fontWeight": "bold", "color": "#000000", "offset": 2, "baseline": "alphabetic", "anchor": "middle"},
 "legend": {"orient": "top-right", "offset": 13, "fillColor": "#ffffff", "strokeColor": "#262626", "padding": 4, "labelFont": "Liberation Sans", "labelFontSize": 20, "labelColor": "#000000", "labelLimit": 0, "symbolType": "M-2.4,0H2.4", "symbolSize": 400, "symbolOffset": 13, "symbolStrokeWidth": 2.8, "rowPadding": 4, "labelOffset": 19.7}
}
}
